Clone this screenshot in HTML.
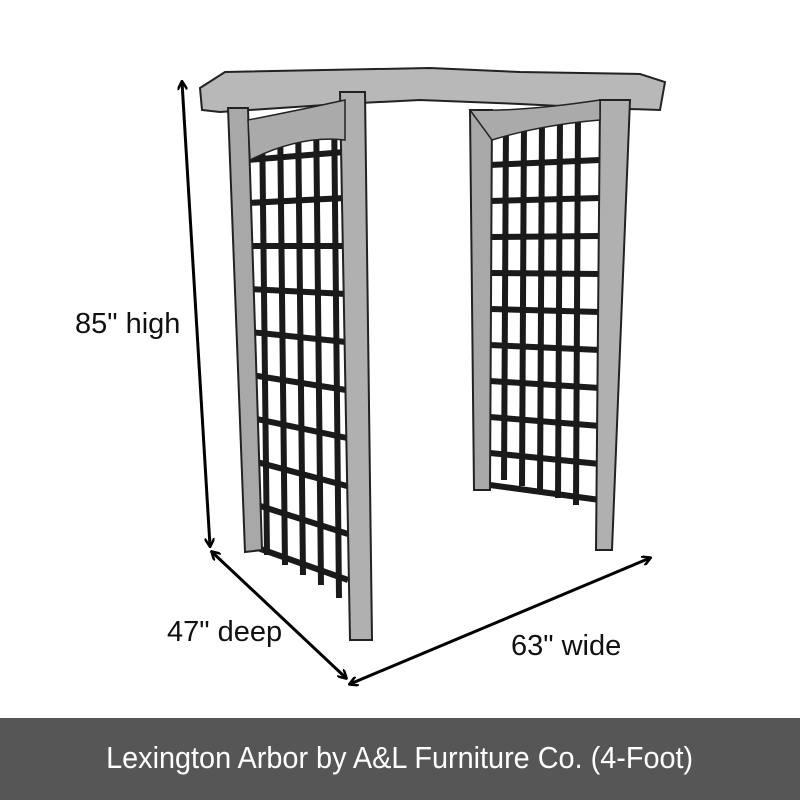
<!DOCTYPE html>
<html><head><meta charset="utf-8"><style>
html,body{margin:0;padding:0;background:#fff;}
#w{position:relative;width:800px;height:800px;overflow:hidden;background:#fff;font-family:"Liberation Sans Narrow","Liberation Sans",sans-serif;}
.lab{position:absolute;font-size:29px;color:#111;white-space:nowrap;}
#ban{position:absolute;left:0;top:718px;width:800px;height:82px;background:#565656;color:#fff;font-size:31px;text-align:center;line-height:80px;}
#ban span{display:inline-block;transform:scaleX(0.93);}
</style></head><body><div id="w">
<svg width="800" height="718" style="position:absolute;left:0;top:0">
<defs>
<marker id="ah" markerWidth="10" markerHeight="10" refX="8" refY="5" orient="auto-start-reverse" markerUnits="userSpaceOnUse"><path d="M0,0 L9,5 L0,10" fill="none" stroke="#000" stroke-width="2.5"/></marker>
</defs>
<polygon points="200,88 225,72 430,68 520,72 640,74 665,82 660,110 600,108 520,104 420,100 340,104 220,112 202,110" fill="#b8b8b8" stroke="#222" stroke-width="2"/>
<g stroke="#1a1a1a" stroke-width="6">
<line x1="262" y1="118" x2="267" y2="555"/><line x1="280" y1="115" x2="285" y2="565"/><line x1="298" y1="112" x2="303" y2="575"/><line x1="316" y1="109" x2="321" y2="585"/><line x1="334" y1="106" x2="339" y2="598"/>
<line x1="248" y1="160" x2="345" y2="152"/><line x1="248" y1="203" x2="345" y2="198"/><line x1="249" y1="246" x2="345" y2="246"/><line x1="249" y1="289" x2="346" y2="294"/><line x1="250" y1="332" x2="346" y2="342"/><line x1="251" y1="375" x2="346" y2="390"/><line x1="252" y1="418" x2="347" y2="438"/><line x1="253" y1="461" x2="347" y2="486"/><line x1="254" y1="504" x2="348" y2="534"/><line x1="255" y1="547" x2="348" y2="580"/>
</g>
<polygon points="228,108 248,108 262,550 245,552" fill="#a8a8a8" stroke="#222" stroke-width="2"/>
<polygon points="340,92 365,92 372,640 350,640" fill="#b0b0b0" stroke="#222" stroke-width="2"/>
<path d="M248,120 Q300,110 345,100 L345,140 Q300,135 250,160Z" fill="#aaa" stroke="#222" stroke-width="1.5"/>
<g stroke="#1a1a1a" stroke-width="6">
<line x1="506" y1="122" x2="504" y2="480"/><line x1="524" y1="121" x2="522" y2="486"/><line x1="542" y1="119" x2="540" y2="492"/><line x1="560" y1="118" x2="558" y2="498"/><line x1="578" y1="116" x2="576" y2="505"/>
<line x1="490" y1="165" x2="600" y2="160"/><line x1="490" y1="201" x2="600" y2="198"/><line x1="490" y1="237" x2="600" y2="236"/><line x1="490" y1="273" x2="600" y2="274"/><line x1="490" y1="309" x2="600" y2="312"/><line x1="490" y1="345" x2="600" y2="350"/><line x1="490" y1="381" x2="600" y2="388"/><line x1="490" y1="417" x2="600" y2="426"/><line x1="490" y1="453" x2="600" y2="464"/><line x1="490" y1="485" x2="600" y2="500"/>
</g>
<polygon points="470,110 492,110 490,490 474,490" fill="#a8a8a8" stroke="#222" stroke-width="2"/>
<polygon points="600,100 630,100 612,550 596,550" fill="#b0b0b0" stroke="#222" stroke-width="2"/>
<path d="M470,110 Q520,112 600,100 L600,120 Q540,125 492,140Z" fill="#aaa" stroke="#222" stroke-width="1.5"/>
<g stroke="#000" stroke-width="3" fill="none">
<line x1="182" y1="82" x2="210" y2="546" marker-start="url(#ah)" marker-end="url(#ah)"/>
<line x1="212" y1="552" x2="346" y2="678" marker-start="url(#ah)" marker-end="url(#ah)"/>
<line x1="350" y1="684" x2="650" y2="558" marker-start="url(#ah)" marker-end="url(#ah)"/>
</g>
</svg>
<div class="lab" style="left:75px;top:308px">85" high</div>
<div class="lab" style="left:167px;top:616px">47" deep</div>
<div class="lab" style="left:511px;top:630px">63" wide</div>
<div id="ban"><span>Lexington Arbor by A&amp;L Furniture Co. (4-Foot)</span></div>
</div></body></html>
